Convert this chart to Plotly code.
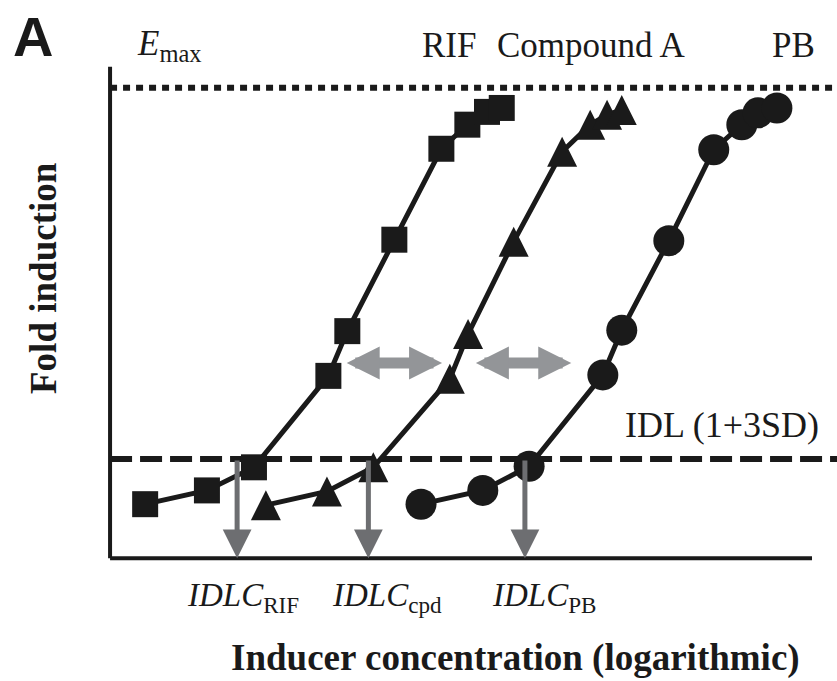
import plotly.graph_objects as go

# ---- data (schematic units: x = log concentration, y = fold induction) ----
rif_x = [0.50, 1.38, 2.05, 3.11, 3.38, 4.05, 4.72, 5.09, 5.37, 5.58]
rif_y = [1.10, 1.38, 1.85, 3.71, 4.62, 6.48, 8.33, 8.82, 9.08, 9.16]
cpd_x = [2.22, 3.09, 3.75, 4.84, 5.10, 5.75, 6.44, 6.84, 7.08, 7.29]
cpd_y = [1.08, 1.36, 1.85, 3.65, 4.56, 6.44, 8.27, 8.82, 9.02, 9.12]
pb_x = [4.43, 5.31, 5.97, 7.02, 7.29, 7.96, 8.60, 9.00, 9.23, 9.50]
pb_y = [1.10, 1.38, 1.87, 3.73, 4.64, 6.46, 8.31, 8.82, 9.06, 9.16]
emax_level = 9.57
idl_level = 2.02
idlc_x = [1.81, 3.68, 5.91]
idlc_names = ["RIF", "cpd", "PB"]
shift_y = 3.97
shift_pairs = [(3.35, 4.73), (5.19, 6.57)]
compound_names = ["RIF", "Compound A", "PB"]

# ---- layout geometry ----
W, H = 837, 681
L, R, T, B = 89, 0, 47, 108
XR = [-0.3, 10.356]
YR = [-0.3, 10.4]


def fx(p):
    return (p - L) / (W - L - R)


def fy(p):
    return (H - B - p) / (H - T - B)


SERIF = "Liberation Serif, Times New Roman, serif"
INK = "#1a1a1a"

fig = go.Figure()

fig.add_trace(go.Scatter(
    x=rif_x, y=rif_y, mode="lines+markers",
    line=dict(color=INK, width=5),
    marker=dict(symbol="square", size=26, color=INK),
    showlegend=False, cliponaxis=False))
fig.add_trace(go.Scatter(
    x=cpd_x, y=cpd_y, mode="lines+markers",
    line=dict(color=INK, width=5),
    marker=dict(symbol="arrow-down", angle=180, standoff=15, size=30,
                color=INK),
    showlegend=False, cliponaxis=False))
fig.add_trace(go.Scatter(
    x=pb_x, y=pb_y, mode="lines+markers",
    line=dict(color=INK, width=5),
    marker=dict(symbol="circle", size=31, color=INK),
    showlegend=False, cliponaxis=False))

shapes = [
    # axes
    dict(type="line", xref="x", yref="y", x0=0, x1=0, y0=0, y1=10,
         line=dict(color=INK, width=4)),
    dict(type="line", xref="x", yref="y", x0=0, x1=10, y0=0, y1=0,
         line=dict(color=INK, width=4)),
    # Emax dotted
    dict(type="line", xref="x", yref="y", x0=0, x1=XR[1], y0=emax_level,
         y1=emax_level, layer="below",
         line=dict(color=INK, width=6, dash="7px,6px")),
    # IDL dashed
    dict(type="line", xref="x", yref="y", x0=0, x1=XR[1], y0=idl_level,
         y1=idl_level, layer="below",
         line=dict(color=INK, width=6, dash="22px,8px")),
]

annotations = []
# down arrows (IDLC)
for xv in idlc_x:
    annotations.append(dict(
        x=xv, y=0, ax=xv, ay=idl_level, xref="x", yref="y",
        axref="x", ayref="y", text="", showarrow=True,
        arrowhead=2, arrowsize=1.15, arrowwidth=5, arrowcolor="#6d6e71"))
# horizontal double arrows
for x0, x1 in shift_pairs:
    annotations.append(dict(
        x=x1, y=shift_y, ax=x0, ay=shift_y, xref="x", yref="y",
        axref="x", ayref="y", text="", showarrow=True,
        arrowhead=2, startarrowhead=2, arrowside="end+start",
        arrowsize=0.6, startarrowsize=0.6, arrowwidth=11,
        arrowcolor="#939598"))

# IDLC labels
idlc_left = [185, 330, 490]
for name, xl in zip(idlc_names, idlc_left):
    annotations.append(dict(
        x=fx(xl), y=fy(597), xref="paper", yref="paper",
        xanchor="left", yanchor="middle", showarrow=False,
        text="<i>IDLC</i><sub>%s</sub>" % name,
        font=dict(family=SERIF, size=33, color=INK)))

# compound labels at top
top_left = [420, 495, 770]
for name, xl in zip(compound_names, top_left):
    annotations.append(dict(
        x=fx(xl), y=fy(46), xref="paper", yref="paper",
        xanchor="left", yanchor="middle", showarrow=False, text=name,
        font=dict(family=SERIF, size=35, color=INK)))

annotations += [
    dict(x=fx(135), y=fy(46), xref="paper", yref="paper", xanchor="left",
         yanchor="middle", showarrow=False, text="<i>E</i><sub>max</sub>",
         font=dict(family=SERIF, size=35, color=INK)),
    dict(x=fx(623), y=fy(425), xref="paper", yref="paper", xanchor="left",
         yanchor="middle", showarrow=False, text="IDL (1+3SD)",
         font=dict(family=SERIF, size=36, color=INK)),
    dict(x=fx(33), y=fy(37), xref="paper", yref="paper", xanchor="center",
         yanchor="middle", showarrow=False, text="<b>A</b>",
         font=dict(family="Liberation Sans, Arial, sans-serif", size=56,
                   color=INK)),
    dict(x=fx(515), y=fy(658), xref="paper", yref="paper", xanchor="center",
         yanchor="middle", showarrow=False,
         text="<b>Inducer concentration (logarithmic)</b>",
         font=dict(family=SERIF, size=37, color=INK)),
    dict(x=fx(43), y=fy(278), xref="paper", yref="paper", xanchor="center",
         yanchor="middle", showarrow=False, textangle=-90,
         text="<b>Fold induction</b>",
         font=dict(family=SERIF, size=37, color=INK)),
]

fig.update_layout(
    width=W, height=H,
    margin=dict(l=L, r=R, t=T, b=B, pad=0, autoexpand=False),
    paper_bgcolor="white", plot_bgcolor="white",
    xaxis=dict(range=XR, visible=False, fixedrange=True),
    yaxis=dict(range=YR, visible=False, fixedrange=True),
    shapes=shapes, annotations=annotations, showlegend=False,
)

fig.write_html("out.html")
